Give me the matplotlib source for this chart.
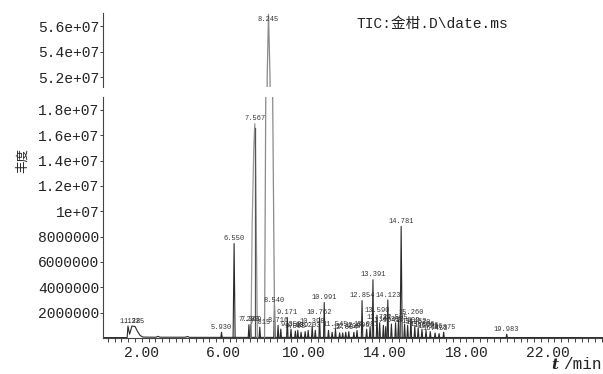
import matplotlib
matplotlib.use('Agg')
import matplotlib.pyplot as plt
from matplotlib.ticker import MultipleLocator, FixedLocator

plt.rcParams['font.family'] = ['Liberation Mono', 'Noto Sans CJK SC', 'DejaVu Sans']

# peaks: retention time (min), height (counts), label ('' = no label)
peak_t = [5.930, 6.550, 7.280, 7.369, 7.815, 8.540, 8.716, 8.85, 9.171, 9.352,
          9.568, 9.689, 9.85, 10.05, 10.20, 10.398, 10.55, 10.762, 10.991, 11.2,
          11.38, 11.545, 11.75, 11.9, 12.05, 12.2, 12.45, 12.606, 12.854, 13.08,
          13.25, 13.391, 13.590, 13.722, 13.904, 14.02, 14.123, 14.3, 14.505, 14.65,
          14.781, 14.95, 15.1, 15.260, 15.452, 15.62, 15.806, 16.006, 16.216, 16.453,
          16.65, 16.875, 19.983]
peak_h = [0.45e6, 7.45e6, 1.05e6, 1.05e6, 0.85e6, 2.6e6, 1.0e6, 0.7e6, 1.6e6, 0.7e6,
          0.55e6, 0.6e6, 0.45e6, 0.5e6, 0.6e6, 0.95e6, 0.6e6, 1.6e6, 2.8e6, 0.6e6,
          0.45e6, 0.7e6, 0.4e6, 0.4e6, 0.45e6, 0.5e6, 0.45e6, 0.6e6, 2.95e6, 0.7e6,
          0.9e6, 4.6e6, 1.8e6, 1.2e6, 1.0e6, 0.9e6, 3.0e6, 1.1e6, 1.2e6, 1.4e6,
          8.8e6, 1.1e6, 1.0e6, 1.6e6, 0.9e6, 0.8e6, 0.7e6, 0.6e6, 0.5e6, 0.4e6,
          0.35e6, 0.45e6, 0.3e6]
peak_lab = ['5.930', '6.550', '7.280', '7.369', '7.815', '8.540', '8.716', '', '9.171', '9.352',
            '9.568', '9.689', '', '', '10.203', '10.398', '', '10.762', '10.991', '',
            '', '11.545', '', '', '12.054', '12.208', '', '12.606', '12.854', '13.081',
            '', '13.391', '13.590', '13.722', '13.904', '', '14.123', '14.302', '14.505', '',
            '14.781', '', '15.102', '15.260', '15.452', '15.620', '15.806', '16.006', '16.216', '16.453',
            '', '16.875', '19.983']

# two main peaks, drawn as profiles
p1_t = [7.38, 7.44, 7.52, 7.567, 7.60, 7.64, 7.70]
p1_y = [0, 9e6, 15e6, 16.9e6, 15e6, 9e6, 0]
p2_t = [8.05, 8.11, 8.18, 8.245, 8.32, 8.45, 8.55]
p2_y = [0, 19e6, 52e6, 56.95e6, 52e6, 19e6, 0]

# baseline with solvent hump
base_t = [0.09, 1.28, 1.32, 1.40, 1.52, 1.67, 1.80, 1.92, 2.06, 2.7, 2.8, 2.9, 4.15, 4.25, 4.35, 24.72]
base_y = [0.03e6, 0.03e6, 0.95e6, 0.3e6, 0.95e6, 0.9e6, 0.5e6, 0.2e6, 0.07e6, 0.06e6, 0.13e6, 0.06e6,
          0.06e6, 0.12e6, 0.05e6, 0.03e6]
solv_t = [1.45, 1.65]
solv_lab = ['1.128', '1.325']

yt_bot = [2e6, 4e6, 6e6, 8e6, 1e7, 1.2e7, 1.4e7, 1.6e7, 1.8e7]
yl_bot = ['2000000', '4000000', '6000000', '8000000', '1e+07', '1.2e+07', '1.4e+07', '1.6e+07', '1.8e+07']
yt_top = [5.2e7, 5.4e7, 5.6e7]
yl_top = ['5.2e+07', '5.4e+07', '5.6e+07']
xt = [2, 6, 10, 14, 18, 22]
xl = ['2.00', '6.00', '10.00', '14.00', '18.00', '22.00']

fig = plt.figure(figsize=(6.03, 3.74), dpi=100)
ax_top = fig.add_axes([0.1708, 0.767, 0.829, 0.198])
ax_bot = fig.add_axes([0.1708, 0.0963, 0.829, 0.644])

lc = '#2a2a2a'
for ax in (ax_top, ax_bot):
    ax.plot(base_t, base_y, color=lc, lw=0.8)
    for t, h in zip(peak_t, peak_h):
        w = 0.05 if h > 5e6 else 0.035
        ax.plot([t - w, t, t + w], [0, h, 0], color=lc, lw=0.8)
    ax.plot(p1_t, p1_y, color='#999999', lw=0.9)
    ax.plot([7.567, 7.567], [0, 16.6e6], color='#555555', lw=0.9)
    ax.plot(p2_t, p2_y, color='#8a8a8a', lw=0.9)
    ax.set_xlim(0.09, 24.72)
    for s in ['top', 'right']:
        ax.spines[s].set_visible(False)
    ax.spines['left'].set_color('#444444')
    ax.spines['bottom'].set_color('#444444')
    ax.tick_params(axis='y', length=2, pad=0.5, labelsize=10.5, colors='#222222', width=0.6)

ax_top.set_ylim(5.12e7, 5.705e7)
ax_top.spines['bottom'].set_visible(False)
ax_top.set_xticks([])
ax_top.yaxis.set_major_locator(FixedLocator(yt_top))
ax_top.set_yticklabels(yl_top)
ax_top.annotate('8.245', (8.245, 56.95e6), xytext=(0, -1), textcoords='offset points',
                ha='center', va='top', fontsize=5, color='#333333')
ax_top.text(0.508, 0.85, 'TIC:金柑.D\\date.ms', transform=ax_top.transAxes,
            fontsize=10.5, color='#222222', ha='left', va='center')

ax_bot.set_ylim(0, 1.9e7)
ax_bot.yaxis.set_major_locator(FixedLocator(yt_bot))
ax_bot.set_yticklabels(yl_bot)
ax_bot.set_xticks(xt)
ax_bot.set_xticklabels(xl)
ax_bot.xaxis.set_minor_locator(MultipleLocator(1 / 3))
ax_bot.tick_params(axis='x', which='both', length=3, pad=3, labelsize=10.5,
                   colors='#222222', width=0.6)

for t, h, lab in zip(peak_t, peak_h, peak_lab):
    if lab:
        ax_bot.annotate(lab, (t, h), xytext=(0, 1), textcoords='offset points',
                        ha='center', va='bottom', fontsize=5, color='#333333')
ax_bot.annotate('7.567', (7.567, 16.9e6), xytext=(0, 1), textcoords='offset points',
                ha='center', va='bottom', fontsize=5, color='#333333')
for t, lab in zip(solv_t, solv_lab):
    ax_bot.annotate(lab, (t, 0.95e6), xytext=(0, 1), textcoords='offset points',
                    ha='center', va='bottom', fontsize=5, color='#333333')

fig.text(0.038, 0.572, '丰度', rotation=90, fontsize=9, ha='center', va='center',
         family=['Noto Sans CJK SC'], color='#222222')
fig.text(0.925, 0.005, 't', fontsize=11, ha='right', va='bottom', style='italic',
         weight='bold', family=['DejaVu Serif'], color='#222222')
fig.text(0.998, 0.005, '/min', fontsize=11.5, ha='right', va='bottom', color='#222222')

fig.savefig('out.png', dpi=100)
